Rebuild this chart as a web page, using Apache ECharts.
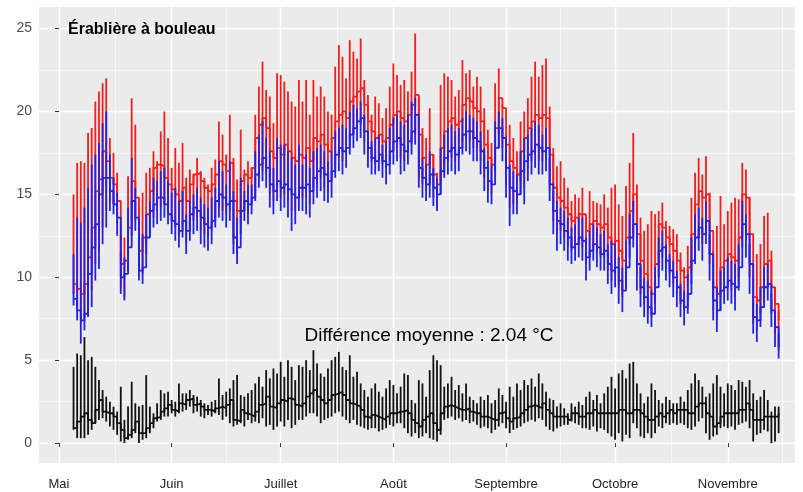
<!DOCTYPE html>
<html>
<head>
<meta charset="utf-8">
<script src="https://cdn.jsdelivr.net/npm/echarts@6/dist/echarts.min.js"></script>
<style>
  html, body { margin: 0; padding: 0; background: #ffffff; }
  #chart { width: 803px; height: 492px; }
</style>
</head>
<body>
<div id="chart"></div>
<script>
// Days are counted from 1 May; the series start on 5 May.
const firstDay = 4;

const monthNames  = ['Mai', 'Juin', 'Juillet', 'Août', 'Septembre', 'Octobre', 'Novembre'];
const monthStarts = [0, 31, 61, 92, 123, 153, 184];
const yTicks      = [0, 5, 10, 15, 20, 25];
const yMinorTicks = [2.5, 7.5, 12.5, 17.5, 22.5];

const titleText = 'Érablière à bouleau';
const diffText  = 'Différence moyenne : 2.04 °C';

// Daily temperatures (°C), first sensor (red)
const redMax = [
  15.0, 16.9, 17.0, 16.9, 18.7, 19.0, 20.6, 21.2, 21.7, 22.0, 18.4, 17.5, 16.3, 12.6, 12.4, 16.1, 20.8, 19.2, 14.2, 15.1, 16.3, 16.6, 17.6, 17.0, 18.8, 20.0, 18.4, 16.6, 17.8, 16.9, 18.1,
  16.0, 16.5, 16.2, 17.2, 16.4, 16.0, 15.6, 16.6, 17.1, 19.4, 18.6, 17.4, 19.8, 17.2, 15.9, 18.9, 16.5, 17.0, 16.6, 19.8, 21.5, 23.0, 21.3, 20.9, 19.3, 22.3, 22.2, 21.8, 21.2, 20.6, 20.3, 21.9,
  20.6, 21.9, 19.8, 21.9, 20.9, 21.5, 20.9, 20.0, 19.8, 22.7, 24.0, 23.3, 22.0, 24.3, 23.6, 23.2, 24.4, 21.9, 21.0, 19.8, 20.9, 20.5, 19.6, 20.2, 21.5, 22.9, 22.2, 21.6, 21.9, 21.2, 22.4, 24.7, 20.9,
  19.0, 18.4, 20.2, 17.4, 16.3, 21.6, 22.3, 22.1, 21.9, 20.9, 21.3, 23.1, 22.3, 22.5, 21.5, 22.1, 21.5, 20.2, 18.9, 18.1, 21.7, 22.6, 20.4, 18.6, 19.2, 18.4, 17.6, 19.4, 20.0, 20.8, 22.1, 23.0, 22.1,
  22.8, 23.2, 20.3, 17.8, 16.7, 17.0, 16.0, 15.4, 14.6, 15.0, 14.8, 15.4, 13.6, 15.2, 14.6, 14.5, 14.4, 15.0, 14.2, 15.4, 15.6, 14.4, 13.7, 15.5, 16.9, 18.7, 15.6, 13.6, 12.8, 13.2, 14.0, 13.8,
  14.0, 14.5, 13.4, 13.1, 12.9, 12.6, 11.5, 10.6, 11.9, 14.8, 16.3, 17.2, 16.2, 17.3, 15.1, 11.6, 13.1, 14.9, 13.2, 14.0, 14.5, 14.8, 14.7, 16.9, 16.5, 14.8, 10.0, 11.4, 12.0, 13.7, 13.9, 11.6, 9.4, 8.0
];
const redMean = [
  9.6, 9.3, 9.0, 9.6, 11.2, 13.0, 15.2, 15.9, 17.6, 17.0, 16.0, 15.6, 14.6, 10.8, 11.0, 13.0, 15.8, 14.8, 11.6, 12.4, 13.8, 15.2, 16.6, 16.8, 16.7, 16.0, 15.6, 15.3, 15.0, 14.6, 15.4,
  14.6, 15.6, 16.2, 16.3, 15.8, 15.4, 15.2, 15.6, 16.2, 17.0, 16.8, 16.4, 16.9, 14.6, 14.0, 15.8, 16.2, 16.0, 16.6, 18.4, 19.2, 19.6, 19.0, 17.6, 17.2, 17.8, 17.4, 18.0, 17.6, 17.2, 17.0, 17.4,
  17.2, 17.8, 17.0, 18.4, 18.2, 18.6, 18.0, 17.6, 18.4, 19.4, 19.8, 20.0, 19.6, 20.6, 20.9, 21.2, 21.4, 20.4, 19.4, 18.8, 18.4, 18.6, 18.2, 18.4, 19.2, 19.8, 20.0, 19.6, 19.4, 19.8, 20.4, 21.0, 18.6,
  17.2, 16.8, 17.4, 16.2, 15.6, 17.8, 18.8, 19.4, 19.6, 19.2, 19.4, 20.4, 20.8, 20.6, 20.2, 20.0, 19.4, 18.0, 17.2, 16.8, 19.0, 20.8, 20.2, 18.0, 17.0, 16.6, 16.2, 17.6, 18.4, 19.0, 19.4, 19.8, 19.6,
  19.8, 19.6, 17.4, 15.4, 14.8, 14.6, 14.2, 13.8, 13.4, 13.6, 13.8, 13.8, 12.8, 13.2, 13.4, 13.2, 13.0, 13.2, 12.4, 12.0, 12.2, 11.6, 11.0, 12.4, 14.0, 15.0, 12.6, 11.0, 10.2, 9.4, 9.0, 10.8,
  13.2, 13.0, 12.4, 12.0, 11.6, 11.0, 10.4, 10.0, 10.6, 12.6, 14.4, 15.2, 14.8, 15.0, 12.8, 9.4, 9.0, 10.6, 11.0, 11.4, 11.2, 11.0, 12.4, 15.0, 14.8, 12.6, 8.8, 8.6, 9.4, 10.8, 11.0, 9.4, 8.4, 7.4
];
const redMin = [
  9.0, 8.2, 7.2, 7.6, 8.4, 9.2, 10.8, 11.6, 13.0, 14.0, 14.6, 14.4, 13.2, 9.4, 8.8, 11.0, 13.4, 13.4, 10.4, 10.2, 12.0, 13.2, 13.6, 14.0, 14.2, 14.4, 14.0, 13.4, 13.0, 12.6, 13.2,
  12.0, 12.8, 13.4, 13.6, 12.8, 12.6, 12.4, 12.8, 13.6, 14.2, 14.0, 13.8, 14.0, 12.0, 11.4, 13.2, 14.0, 13.8, 14.4, 15.2, 16.0, 16.4, 16.2, 15.0, 14.6, 15.2, 14.8, 15.0, 14.6, 14.0, 14.0, 14.8,
  14.8, 14.8, 14.4, 15.4, 15.6, 16.0, 15.4, 15.2, 15.8, 16.8, 17.2, 17.0, 17.4, 18.2, 18.6, 19.0, 19.2, 18.2, 17.4, 17.0, 16.8, 17.2, 16.8, 16.6, 17.0, 17.6, 17.8, 17.2, 17.0, 17.6, 18.0, 18.6, 16.0,
  15.6, 15.2, 15.6, 14.8, 14.15, 15.8, 16.8, 17.0, 17.2, 17.0, 17.2, 18.2, 18.4, 18.2, 17.8, 17.8, 17.0, 16.0, 15.2, 15.0, 17.2, 18.6, 17.8, 15.6, 14.2, 14.4, 14.4, 15.8, 15.4, 16.6, 17.0, 17.4, 17.0,
  17.0, 17.2, 15.2, 13.4, 12.6, 12.8, 12.4, 11.8, 11.6, 11.8, 12.0, 11.8, 10.8, 11.2, 11.8, 11.4, 11.2, 11.2, 10.4, 9.8, 10.2, 9.4, 8.8, 10.2, 12.0, 12.6, 10.2, 9.0, 8.4, 7.8, 7.6, 9.2,
  11.0, 11.2, 10.6, 10.2, 9.6, 9.0, 8.4, 8.0, 8.6, 10.4, 11.6, 12.4, 12.0, 12.8, 10.8, 8.0, 7.4, 8.8, 9.2, 9.4, 9.2, 8.8, 10.0, 12.6, 12.2, 10.0, 7.2, 6.8, 7.8, 9.2, 9.4, 7.8, 6.6, 5.6
];

// Daily temperatures (°C), second sensor (blue)
const blueMax = [
  11.4, 13.6, 13.3, 14.2, 15.4, 16.8, 17.4, 18.1, 19.3, 20.0, 17.4, 16.0, 15.1, 11.6, 11.2, 14.2, 17.2, 15.4, 12.6, 12.6, 13.8, 14.6, 16.0, 15.8, 16.4, 16.6, 15.8, 15.1, 15.4, 14.6, 15.2,
  13.8, 14.6, 15.0, 15.4, 14.8, 14.4, 14.2, 14.8, 15.4, 17.0, 16.4, 15.6, 17.0, 15.2, 13.6, 16.0, 15.2, 15.6, 15.6, 17.6, 18.6, 19.4, 18.4, 17.6, 16.6, 18.4, 18.0, 18.0, 17.6, 17.2, 16.8, 18.0,
  16.8, 17.4, 16.6, 17.6, 17.8, 18.0, 17.6, 17.0, 17.6, 18.8, 19.0, 19.2, 19.0, 20.0, 20.4, 20.2, 20.6, 19.8, 18.8, 18.2, 18.4, 18.6, 18.0, 18.2, 19.0, 19.6, 19.8, 19.4, 19.2, 19.8, 20.6, 20.8, 18.0,
  17.2, 16.8, 17.6, 16.6, 16.0, 17.8, 18.6, 19.0, 19.2, 18.8, 19.0, 19.6, 20.0, 19.8, 19.6, 19.4, 18.8, 17.8, 17.0, 16.8, 19.4, 20.0, 19.6, 17.8, 16.8, 16.4, 16.2, 17.6, 18.4, 18.6, 19.0, 19.4, 19.2,
  18.6, 19.0, 17.2, 15.2, 14.6, 14.2, 14.0, 13.6, 13.0, 13.2, 13.6, 13.6, 12.4, 12.8, 13.2, 13.0, 12.6, 12.8, 12.0, 12.2, 12.0, 11.2, 10.6, 12.2, 13.8, 14.6, 12.0, 10.6, 10.0, 9.8, 9.2, 10.6,
  12.4, 12.8, 12.0, 11.4, 11.0, 10.4, 9.6, 9.2, 10.2, 12.4, 13.8, 14.2, 13.6, 14.6, 12.6, 9.8, 9.4, 10.4, 10.6, 11.2, 11.0, 10.8, 12.0, 14.6, 13.8, 12.0, 8.6, 8.4, 9.4, 10.6, 10.8, 9.0, 8.0, 6.6
];
const blueMean = [
  8.7, 8.0, 7.4, 7.8, 10.2, 11.8, 13.2, 15.0, 16.0, 16.0, 15.2, 14.4, 13.6, 10.0, 10.2, 11.8, 14.6, 13.6, 10.4, 10.6, 12.4, 14.0, 14.4, 14.8, 14.8, 14.4, 13.8, 13.4, 13.2, 12.8, 13.4,
  12.8, 13.8, 14.2, 14.0, 13.6, 13.2, 13.0, 13.4, 14.6, 15.0, 14.8, 14.4, 14.6, 12.4, 11.8, 14.0, 14.6, 14.4, 14.8, 16.2, 16.8, 17.2, 16.6, 15.6, 15.2, 15.8, 15.4, 15.6, 15.3, 15.0, 14.8, 15.4,
  15.4, 15.6, 15.2, 16.0, 16.4, 16.6, 16.2, 15.8, 16.4, 17.4, 17.8, 17.6, 17.8, 18.6, 19.0, 19.4, 19.6, 18.8, 17.8, 17.2, 17.0, 17.4, 17.0, 16.8, 17.6, 18.2, 18.4, 18.0, 17.6, 18.2, 18.8, 19.8, 16.6,
  16.0, 15.6, 16.2, 15.4, 15.0, 16.4, 17.2, 17.6, 17.8, 17.4, 17.8, 18.6, 18.8, 18.8, 18.4, 18.2, 17.6, 16.6, 15.8, 15.6, 17.8, 19.0, 18.4, 16.6, 15.4, 15.2, 15.0, 16.4, 17.0, 17.4, 17.6, 18.0, 17.8,
  17.6, 17.8, 15.6, 14.0, 13.4, 13.2, 12.8, 12.4, 11.8, 12.0, 12.4, 12.2, 11.2, 11.6, 12.0, 11.8, 11.4, 11.6, 10.8, 10.4, 10.6, 9.8, 9.2, 10.6, 12.4, 13.2, 10.8, 9.4, 8.8, 8.2, 7.8, 9.4,
  11.6, 11.8, 11.0, 10.4, 10.0, 9.4, 8.6, 8.2, 9.0, 11.0, 12.4, 13.0, 12.6, 13.4, 11.4, 8.6, 8.0, 9.2, 9.4, 9.8, 9.6, 9.4, 10.6, 13.2, 12.6, 10.8, 7.6, 7.4, 8.2, 9.4, 9.6, 8.0, 7.0, 5.8
];
const blueMin = [
  8.3, 7.4, 6.0, 6.8, 7.6, 8.2, 9.8, 10.5, 12.0, 13.0, 14.0, 13.8, 12.5, 9.0, 8.6, 10.4, 12.5, 12.8, 9.8, 9.6, 11.4, 12.5, 13.0, 13.2, 13.4, 13.6, 13.2, 12.6, 12.2, 11.8, 12.4,
  11.4, 12.2, 12.6, 12.8, 12.0, 11.8, 11.6, 12.0, 13.0, 13.6, 13.4, 13.0, 13.4, 11.4, 10.8, 12.6, 13.4, 13.2, 13.8, 14.6, 15.4, 15.8, 15.4, 14.2, 13.8, 14.6, 14.0, 14.2, 13.6, 12.8, 13.2, 14.0,
  14.0, 13.8, 13.6, 14.4, 14.8, 15.2, 14.6, 14.5, 14.8, 16.0, 16.4, 16.2, 16.6, 17.4, 17.8, 18.2, 18.4, 17.4, 16.6, 16.2, 16.2, 16.4, 16.0, 15.6, 16.2, 16.8, 17.0, 16.2, 16.4, 16.8, 17.4, 18.0, 15.4,
  14.8, 14.6, 14.8, 14.3, 14.0, 15.0, 16.0, 16.2, 16.4, 16.2, 16.4, 17.4, 17.6, 17.4, 17.0, 17.0, 16.2, 15.2, 14.5, 14.4, 16.4, 17.8, 17.0, 14.8, 13.1, 13.8, 13.8, 15.0, 14.4, 15.8, 16.2, 16.6, 16.2,
  16.2, 16.4, 14.6, 12.6, 11.6, 12.0, 11.6, 11.0, 10.8, 11.0, 11.2, 11.0, 9.8, 10.4, 11.0, 10.6, 10.4, 10.4, 9.6, 9.0, 9.4, 8.4, 7.9, 9.4, 11.2, 11.8, 9.2, 8.2, 7.6, 7.2, 7.0, 8.4,
  10.0, 10.4, 9.8, 9.4, 8.8, 8.2, 7.6, 7.1, 7.8, 9.6, 10.8, 11.6, 11.0, 12.0, 9.8, 7.4, 6.7, 8.0, 8.4, 8.6, 8.4, 8.0, 9.2, 11.8, 11.2, 9.0, 6.6, 6.1, 7.0, 8.4, 8.6, 7.0, 5.8, 5.1
];

// Daily difference between the two sensors (°C)
const diffMax = [
  4.6, 5.4, 5.3, 6.4, 5.0, 5.2, 4.6, 3.8, 3.2, 2.8, 2.5, 2.2, 1.9, 3.4, 1.4, 2.2, 3.7, 2.4, 2.2, 2.3, 4.1, 2.2, 1.8, 2.4, 3.2, 3.0, 3.1, 2.6, 2.5, 3.6, 3.0,
  3.0, 3.2, 2.9, 2.8, 2.6, 2.4, 2.3, 2.5, 2.6, 3.9, 2.9, 3.1, 3.3, 3.8, 4.1, 2.9, 2.8, 3.0, 3.2, 3.6, 4.0, 3.4, 4.4, 3.9, 4.5, 4.2, 4.9, 4.0, 5.0, 4.6, 3.8, 4.7,
  4.6, 5.0, 4.4, 5.6, 4.8, 4.2, 4.0, 4.5, 5.0, 5.2, 5.5, 4.6, 4.4, 5.3, 4.0, 4.3, 3.6, 3.2, 2.8, 3.3, 3.6, 3.1, 2.8, 3.3, 3.8, 3.5, 3.0, 3.4, 4.2, 4.1, 2.6, 2.4, 3.8,
  3.6, 2.8, 4.4, 5.3, 5.0, 4.7, 3.4, 3.6, 4.0, 3.2, 3.5, 3.0, 3.6, 2.8, 2.6, 2.4, 2.8, 2.6, 2.9, 2.4, 2.6, 3.3, 2.9, 2.5, 3.4, 2.8, 3.6, 3.2, 3.8, 3.5, 3.9, 3.4, 4.2,
  3.6, 3.1, 2.7, 2.6, 2.2, 2.4, 2.1, 1.8, 2.4, 2.2, 2.5, 2.3, 2.8, 3.1, 2.6, 2.9, 2.4, 3.0, 3.4, 4.0, 3.3, 4.2, 4.4, 3.9, 4.8, 4.9, 3.6, 3.0, 2.4, 2.8, 3.6, 3.2,
  2.6, 2.4, 2.8, 2.6, 2.4, 2.4, 2.8, 2.5, 3.2, 3.6, 4.2, 3.8, 3.4, 2.8, 3.0, 3.6, 4.1, 3.4, 3.0, 3.6, 3.5, 3.2, 3.8, 3.7, 3.4, 3.8, 3.0, 2.6, 2.8, 3.2, 2.6, 1.9, 2.2, 2.2
];
const diffMean = [
  0.9, 1.3, 1.6, 1.8, 1.4, 1.2, 2.0, 2.6, 1.9, 1.8, 1.8, 1.6, 1.2, 0.8, 0.3, 0.5, 0.8, 1.3, 0.6, 0.6, 0.9, 1.2, 1.5, 1.6, 1.9, 2.1, 2.3, 2.0, 1.9, 2.4, 2.3,
  2.6, 2.7, 2.3, 2.4, 2.2, 2.0, 2.0, 1.9, 2.1, 2.2, 2.1, 2.3, 2.6, 1.4, 1.3, 2.0, 1.8, 1.7, 1.6, 1.9, 2.3, 2.4, 2.8, 2.2, 2.1, 2.4, 2.6, 2.5, 2.7, 2.6, 2.3, 2.2,
  2.4, 2.8, 3.0, 3.2, 2.8, 2.6, 2.4, 2.6, 2.9, 3.0, 3.1, 2.9, 2.6, 2.4, 2.3, 2.2, 2.0, 1.6, 1.5, 1.7, 1.6, 1.5, 1.4, 1.6, 1.8, 1.8, 1.9, 1.9, 2.0, 1.8, 1.4, 1.2, 1.0,
  1.4, 1.6, 1.8, 1.2, 0.8, 1.8, 2.2, 2.3, 2.2, 2.1, 2.0, 2.0, 2.1, 1.9, 1.8, 1.8, 1.6, 1.6, 1.5, 1.4, 1.4, 1.8, 1.9, 1.5, 1.3, 1.5, 1.6, 1.8, 2.0, 2.2, 2.3, 2.2, 2.1,
  2.4, 2.0, 1.8, 1.6, 1.6, 1.6, 1.6, 1.4, 1.8, 1.8, 1.6, 1.6, 1.8, 1.8, 2.0, 1.8, 1.8, 1.8, 1.8, 1.8, 1.8, 2.0, 2.0, 1.8, 1.8, 2.0, 2.0, 1.8, 1.6, 1.4, 1.4, 1.6,
  1.8, 1.6, 1.8, 2.0, 1.8, 2.0, 2.0, 2.0, 1.8, 1.8, 2.2, 2.4, 2.4, 1.8, 1.6, 1.0, 1.2, 1.6, 1.8, 1.8, 1.8, 1.8, 2.0, 2.0, 2.4, 2.0, 1.4, 1.4, 1.4, 1.6, 1.6, 1.6, 1.6, 1.8
];
const diffMin = [
  0.8, 0.3, 0.3, 0.3, 0.5, 0.8, 1.2, 1.4, 1.5, 1.3, 1.0, 0.8, 0.5, 0.1, 0.0, 0.2, 0.3, 0.6, 0.0, 0.2, 0.3, 0.6, 0.9, 1.3, 1.4, 1.6, 1.6, 1.8, 1.6, 1.8, 1.9,
  2.0, 2.2, 1.8, 1.9, 1.6, 1.5, 1.7, 1.6, 1.8, 1.7, 1.4, 1.6, 1.2, 1.0, 1.1, 1.2, 1.0, 1.4, 1.2, 1.3, 1.2, 1.5, 1.0, 1.1, 0.8, 1.0, 1.3, 1.0, 1.4, 0.9, 1.1, 1.4,
  1.4, 1.6, 1.8, 1.8, 1.6, 1.2, 1.4, 1.5, 1.6, 1.8, 1.9, 1.6, 1.4, 1.2, 1.4, 1.1, 1.0, 0.9, 0.8, 0.9, 0.9, 0.7, 0.8, 0.9, 1.1, 1.0, 1.2, 1.2, 0.9, 0.6, 0.4, 0.6, 0.3,
  0.4, 0.6, 0.3, 0.2, 0.1, 0.5, 1.4, 1.5, 1.6, 1.4, 1.5, 1.3, 1.4, 1.2, 1.3, 1.1, 0.9, 1.0, 0.9, 0.6, 0.8, 1.0, 1.2, 0.9, 0.6, 0.8, 0.9, 1.0, 1.2, 1.3, 1.4, 1.3, 1.5,
  1.4, 1.0, 0.8, 0.7, 0.9, 1.0, 1.1, 1.1, 1.3, 1.2, 1.1, 0.9, 0.9, 0.8, 1.0, 0.7, 0.9, 0.8, 0.6, 0.4, 0.2, 0.6, 0.1, 0.5, 0.3, 1.2, 0.9, 0.4, 0.3, 0.6, 0.3, 0.6,
  1.0, 0.9, 1.2, 1.1, 1.2, 1.1, 1.2, 1.1, 0.9, 0.8, 1.0, 1.3, 1.5, 0.6, 0.2, 0.4, 0.5, 0.9, 1.0, 0.9, 1.0, 0.8, 1.1, 1.2, 1.3, 0.9, 0.1, 0.5, 0.6, 0.8, 0.7, 0.0, 0.1, 0.6
];

const dayCount = Math.min(
  redMax.length, redMean.length, redMin.length,
  blueMax.length, blueMean.length, blueMin.length,
  diffMax.length, diffMean.length, diffMin.length
);

// [day, low, high] rows for the daily min-max segments
function rangeRows(lo, hi) {
  const rows = [];
  for (let i = 0; i < dayCount; i++) rows.push([firstDay + i, lo[i], hi[i]]);
  return rows;
}
// [day, value] rows for the daily mean step line
function meanRows(values) {
  const rows = [];
  for (let i = 0; i < dayCount; i++) rows.push([firstDay + i, values[i]]);
  return rows;
}
// midpoints between month starts (light grid lines)
const monthMids = [];
for (let k = 0; k < monthStarts.length; k++) {
  const next = k + 1 < monthStarts.length ? monthStarts[k + 1] : monthStarts[k] + 30;
  monthMids.push((monthStarts[k] + next) / 2);
}

const FONT = '"Liberation Sans", Arial, Helvetica, sans-serif';
const LW = 1.8;

function rangeSeries(name, lo, hi, color, z) {
  return {
    name: name,
    type: 'custom',
    xAxisIndex: 0,
    yAxisIndex: 0,
    z: z,
    silent: true,
    encode: { x: 0, y: [1, 2] },
    data: rangeRows(lo, hi),
    renderItem: function (params, api) {
      const top = api.coord([api.value(0), api.value(2)]);
      const bottom = api.coord([api.value(0), api.value(1)]);
      return {
        type: 'line',
        shape: { x1: top[0], y1: top[1], x2: bottom[0], y2: bottom[1] },
        style: { stroke: color, lineWidth: LW }
      };
    }
  };
}
function meanSeries(name, values, color, z) {
  return {
    name: name,
    type: 'line',
    xAxisIndex: 0,
    yAxisIndex: 0,
    z: z,
    step: 'end',
    silent: true,
    symbol: 'none',
    lineStyle: { color: color, width: LW },
    data: meanRows(values)
  };
}

const chart = echarts.init(document.getElementById('chart'), null, { renderer: 'canvas' });

const X_MIN = -5.5, X_MAX = 202.5;
const Y_MIN = -1.2, Y_MAX = 26.3;

chart.setOption({
  animation: false,
  backgroundColor: '#ffffff',
  textStyle: { fontFamily: FONT },
  grid: {
    left: 39, right: 8, top: 7, bottom: 29,
    containLabel: false,
    outerBoundsMode: 'none',
    show: true,
    backgroundColor: '#ebebeb',
    borderWidth: 0
  },
  xAxis: [
    {
      type: 'value',
      min: X_MIN, max: X_MAX,
      position: 'bottom',
      axisLine: { show: false },
      axisTick: {
        show: true, length: 4, inside: false,
        customValues: monthStarts,
        lineStyle: { color: '#333333', width: 1 }
      },
      axisLabel: {
        show: true,
        customValues: monthStarts,
        formatter: function (v) {
          const k = monthStarts.indexOf(v);
          return k >= 0 ? monthNames[k] : '';
        },
        color: '#1f1f1f',
        fontSize: 13,
        fontFamily: FONT,
        margin: 15
      },
      splitLine: { show: true, lineStyle: { color: '#ffffff', width: 1.4 } }
    },
    {
      type: 'value',
      min: X_MIN, max: X_MAX,
      position: 'bottom',
      axisLine: { show: false },
      axisTick: { show: false, customValues: monthMids },
      axisLabel: { show: false },
      splitLine: { show: true, lineStyle: { color: '#ffffff', width: 0.7 } }
    }
  ],
  yAxis: [
    {
      type: 'value',
      min: Y_MIN, max: Y_MAX,
      position: 'left',
      axisLine: { show: false },
      axisTick: {
        show: true, length: 4, inside: false,
        customValues: yTicks,
        lineStyle: { color: '#333333', width: 1 }
      },
      axisLabel: {
        show: true,
        customValues: yTicks,
        color: '#4d4d4d',
        fontSize: 14,
        fontFamily: FONT,
        margin: 7
      },
      splitLine: { show: true, lineStyle: { color: '#ffffff', width: 1.4 } }
    },
    {
      type: 'value',
      min: Y_MIN, max: Y_MAX,
      position: 'left',
      axisLine: { show: false },
      axisTick: { show: false, customValues: yMinorTicks },
      axisLabel: { show: false },
      splitLine: { show: true, lineStyle: { color: '#ffffff', width: 0.7 } }
    }
  ],
  series: [
    rangeSeries('rouge-étendue', redMin, redMax, '#f41c1c', 2),
    meanSeries('rouge-moyenne', redMean, '#f41c1c', 3),
    rangeSeries('bleu-étendue', blueMin, blueMax, '#2020e8', 4),
    meanSeries('bleu-moyenne', blueMean, '#2020e8', 5),
    rangeSeries('écart-étendue', diffMin, diffMax, '#111111', 4),
    meanSeries('écart-moyenne', diffMean, '#111111', 5)
  ],
  graphic: [
    {
      type: 'text',
      x: 68, y: 30,
      z: 100,
      style: {
        text: titleText,
        font: 'bold 16px ' + FONT,
        fill: '#000000',
        textAlign: 'left',
        textVerticalAlign: 'middle'
      }
    },
    {
      type: 'text',
      x: 429, y: 336,
      z: 100,
      style: {
        text: diffText,
        font: '19px ' + FONT,
        fill: '#000000',
        textAlign: 'center',
        textVerticalAlign: 'middle'
      }
    }
  ]
});
</script>
</body>
</html>
